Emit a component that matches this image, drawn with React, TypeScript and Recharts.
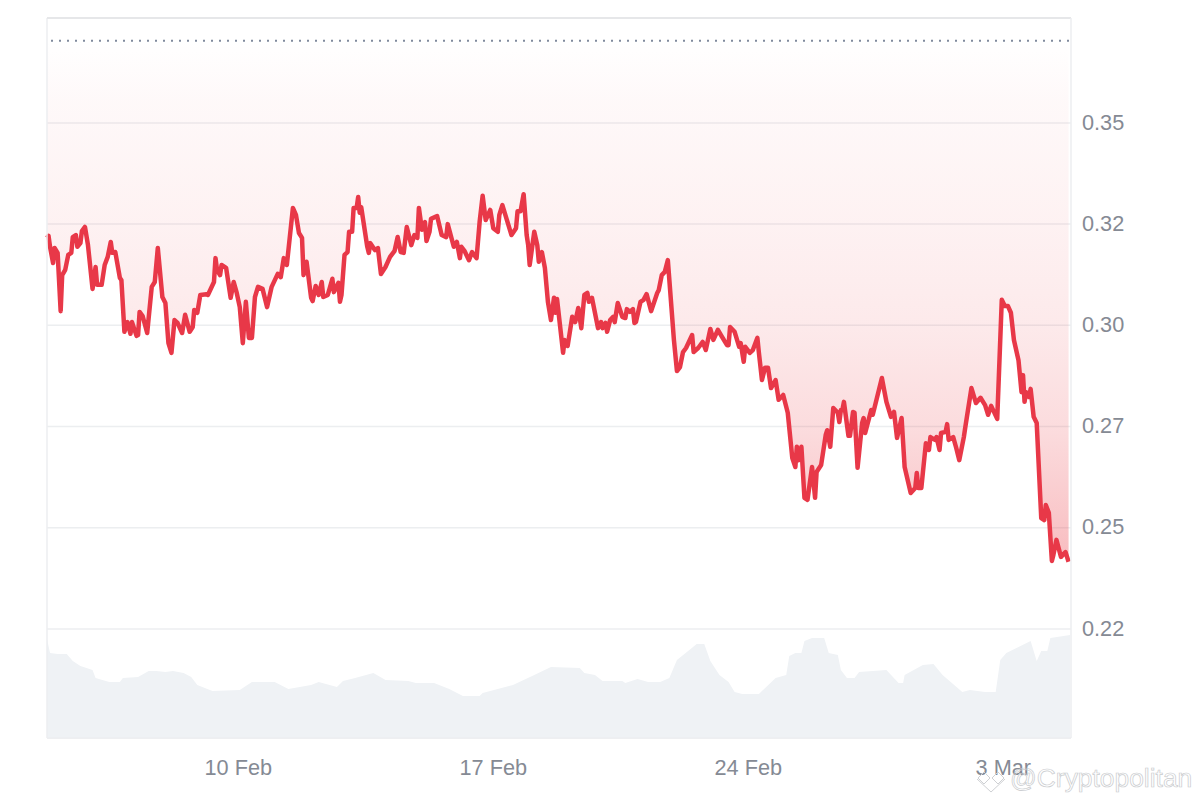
import React from 'react'
import {
  ComposedChart,
  Area,
  XAxis,
  YAxis,
  CartesianGrid,
  ReferenceLine
} from 'recharts'

// hours since the start of the window (4 Feb, evening)
const priceHours = [
  0, 1, 2, 4, 5, 7, 9, 10, 12, 14,
  16, 17, 19, 20, 22, 23, 25, 27, 30, 32,
  33, 36, 38, 40, 42, 43, 45, 48, 49, 51,
  53, 55, 56, 59, 60, 61, 63, 66, 69, 71,
  73, 76, 78, 80, 82, 84, 86, 89, 91, 94,
  96, 97, 99, 101, 105, 106, 110, 111, 112, 114,
  115, 118, 121, 123, 125, 127, 129, 131, 133, 135,
  137, 139, 142, 145, 148, 152, 154, 156, 158, 162,
  164, 166, 168, 169, 171, 174, 175, 177, 179, 181,
  182, 185, 188, 189, 192, 193, 194, 196, 198, 199,
  201, 202, 204, 205, 206, 207, 211, 212, 213, 216,
  218, 220, 223, 226, 229, 231, 233, 235, 237, 240,
  242, 244, 245, 247, 249, 250, 252, 253, 257, 260,
  263, 264, 268, 270, 272, 273, 275, 278, 280, 283,
  285, 287, 289, 292, 294, 297, 298, 300, 303, 306,
  309, 310, 312, 314, 316, 317, 318, 321, 323, 324,
  326, 328, 330, 332, 334, 335, 336, 340, 341, 343,
  346, 348, 350, 352, 354, 356, 357, 359, 363, 365,
  366, 368, 369, 371, 373, 374, 376, 379, 381, 382,
  384, 386, 387, 388, 391, 393, 395, 398, 402, 403,
  405, 407, 409, 410, 413, 415, 417, 419, 421, 425,
  426, 429, 432, 434, 437, 439, 442, 444, 448, 449,
  450, 453, 456, 457, 459, 460, 463, 465, 468, 469,
  471, 473, 475, 477, 480, 482, 485, 488, 491, 493,
  494, 495, 497, 499, 501, 504, 506, 507, 510, 513,
  514, 516, 518, 521, 522, 523, 524, 525, 528, 529,
  531, 532, 534, 537, 538, 539, 543, 544, 550, 553,
  556, 558, 560, 563, 565, 569, 572, 573, 574, 576,
  579, 581, 582, 585, 586, 588, 589, 592, 593, 594,
  597, 599, 601, 604, 605, 609, 612, 615, 618, 620,
  622, 626, 629, 631, 633, 635, 637, 640, 642, 643,
  644, 645, 647, 648, 650, 652, 655, 657, 658, 660,
  662, 663, 665, 668, 671, 673
]

const prices = [
  0.3216, 0.3221, 0.3194, 0.3154, 0.3191, 0.3179, 0.3035, 0.3124, 0.3137, 0.3174,
  0.3179, 0.3218, 0.3223, 0.3194, 0.3203, 0.3233, 0.3243, 0.3198, 0.309, 0.3144,
  0.31, 0.31, 0.3149, 0.3169, 0.3206, 0.3179, 0.3181, 0.3117, 0.3112, 0.2984,
  0.3008, 0.2979, 0.3008, 0.2974, 0.2976, 0.3033, 0.3023, 0.2981, 0.3095, 0.3107,
  0.3191, 0.307, 0.3055, 0.2956, 0.2932, 0.3013, 0.3006, 0.2981, 0.3026, 0.2984,
  0.2996, 0.3038, 0.3031, 0.3075, 0.3077, 0.3075, 0.3107, 0.3166, 0.3137, 0.3124,
  0.3149, 0.3142, 0.3068, 0.3107, 0.308, 0.3045, 0.2956, 0.3058, 0.2969, 0.2969,
  0.307, 0.3095, 0.309, 0.3045, 0.3095, 0.3127, 0.3119, 0.3166, 0.3149, 0.329,
  0.3273, 0.3228, 0.3216, 0.3124, 0.3157, 0.3068, 0.306, 0.3097, 0.3075, 0.3107,
  0.307, 0.3075, 0.3115, 0.3082, 0.3105, 0.3058, 0.3075, 0.3174, 0.3181, 0.3231,
  0.3231, 0.329, 0.329, 0.3317, 0.3278, 0.3292, 0.3194, 0.3179, 0.3203, 0.3186,
  0.3191, 0.3127, 0.3144, 0.3169, 0.3184, 0.3218, 0.3181, 0.3179, 0.3243, 0.3198,
  0.3223, 0.3216, 0.329, 0.3236, 0.3255, 0.3208, 0.3231, 0.3263, 0.327, 0.3223,
  0.3218, 0.325, 0.3194, 0.3206, 0.3166, 0.3194, 0.3184, 0.3161, 0.3181, 0.3166,
  0.3255, 0.332, 0.326, 0.3285, 0.324, 0.3231, 0.3273, 0.3297, 0.326, 0.3223,
  0.324, 0.3282, 0.3282, 0.3324, 0.3223, 0.3198, 0.3149, 0.3231, 0.3198, 0.3157,
  0.3181, 0.3142, 0.3058, 0.3013, 0.3068, 0.3031, 0.3065, 0.2932, 0.2964, 0.2949,
  0.3021, 0.3008, 0.3043, 0.2993, 0.3075, 0.308, 0.3058, 0.3068, 0.2993, 0.3008,
  0.2993, 0.3006, 0.2984, 0.3013, 0.3021, 0.3008, 0.3055, 0.3021, 0.3018, 0.304,
  0.3033, 0.304, 0.3006, 0.3008, 0.3058, 0.3063, 0.3077, 0.3035, 0.308, 0.3087,
  0.3124, 0.3132, 0.3161, 0.3112, 0.2964, 0.2887, 0.2897, 0.2934, 0.2944, 0.2976,
  0.2934, 0.2944, 0.2959, 0.2939, 0.2991, 0.2964, 0.2989, 0.2976, 0.2951, 0.2951,
  0.2996, 0.2984, 0.2947, 0.2956, 0.291, 0.2947, 0.2932, 0.2939, 0.2969, 0.2932,
  0.2865, 0.2895, 0.2895, 0.2845, 0.2865, 0.2816, 0.2828, 0.2784, 0.2672, 0.265,
  0.27, 0.2667, 0.27, 0.2574, 0.2569, 0.265, 0.2574, 0.2638, 0.2655, 0.2729,
  0.2741, 0.27, 0.2796, 0.2784, 0.2761, 0.2791, 0.2791, 0.2811, 0.2727, 0.2727,
  0.2786, 0.2784, 0.2648, 0.2759, 0.2771, 0.2734, 0.2791, 0.2779, 0.287, 0.2811,
  0.2774, 0.2786, 0.2722, 0.2771, 0.265, 0.2586, 0.2598, 0.2635, 0.2598, 0.2598,
  0.2709, 0.2692, 0.2724, 0.2717, 0.2724, 0.2692, 0.2734, 0.2737, 0.2756, 0.2717,
  0.2724, 0.2697, 0.2667, 0.2724, 0.2749, 0.2845, 0.2808, 0.2821, 0.2803, 0.2779,
  0.2801, 0.2769, 0.3063, 0.3048, 0.3048, 0.3031, 0.2964, 0.2914, 0.2835, 0.2877,
  0.2811, 0.2835, 0.2823, 0.2843, 0.2774, 0.2759, 0.2524, 0.2519, 0.2556, 0.2537,
  0.2418, 0.2433, 0.247, 0.2428, 0.244, 0.2416
]

const volumeHours = [
  0, 2, 7, 13, 17, 22, 30, 32, 41, 48,
  50, 60, 67, 72, 78, 83, 90, 95, 99, 109,
  127, 135, 150, 159, 174, 179, 191, 195, 203, 215,
  223, 238, 243, 255, 265, 274, 285, 287, 307, 321,
  332, 351, 354, 361, 366, 379, 381, 389, 396, 404,
  410, 415, 424, 428, 433, 437, 443, 449, 453, 458,
  469, 480, 487, 489, 493, 497, 499, 504, 512, 515,
  521, 523, 527, 532, 535, 553, 561, 564, 565, 571,
  577, 584, 590, 603, 608, 618, 625, 628, 632, 648,
  652, 655, 659, 661, 674
]

const volumes = [
  99, 85, 84, 84, 77, 72, 68, 60, 56, 56,
  60, 61, 67, 67, 66, 67, 65, 61, 53, 47,
  48, 56, 56, 49, 53, 56, 51, 57, 60, 65,
  58, 57, 55, 55, 49, 42, 42, 45, 53, 63,
  71, 70, 65, 63, 57, 57, 55, 59, 56, 56,
  60, 78, 89, 94, 94, 77, 63, 56, 46, 44,
  44, 60, 63, 82, 85, 85, 97, 100, 100, 85,
  83, 68, 60, 60, 66, 68, 55, 55, 63, 68,
  73, 74, 63, 46, 48, 46, 46, 78, 85, 97,
  77, 87, 87, 100, 103
]

const dateTicks = [126, 294, 462, 630]
const dateLabels = ['10 Feb', '17 Feb', '24 Feb', '3 Mar']
const priceTicks = [0.225, 0.25, 0.275, 0.3, 0.325, 0.35]
const priceLabels = ['0.22', '0.25', '0.27', '0.30', '0.32', '0.35']
const startPrice = 0.3703

const table = new Map<number, { hour: number; price?: number; volume?: number }>()
priceHours.forEach((hour, i) => table.set(hour, { hour, price: prices[i] }))
volumeHours.forEach((hour, i) => {
  table.set(hour, { ...(table.get(hour) || { hour }), volume: volumes[i] })
})
const chartData = [...table.values()].sort((a, b) => a.hour - b.hour)

const fontFamily = '"Liberation Sans", Arial, sans-serif'
const tickStyle = { fill: '#858a94', fontSize: 21.7, fontFamily }
const frameColor = '#eceef0'

const App: React.FC = () => {
  return (
    <div style={{ position: 'absolute', left: 0, top: 0, width: 1200, height: 800, background: '#fff' }}>
      <ComposedChart
        width={1200}
        height={800}
        data={chartData}
        margin={{ top: 18, right: 0, bottom: 0, left: 47 }}
      >
        <defs>
          <linearGradient id='priceFill' x1='0' y1='0' x2='0' y2='1'>
            <stop offset='0%' stopColor='#ea3943' stopOpacity={0} />
            <stop offset='11%' stopColor='#ea3943' stopOpacity={0.03} />
            <stop offset='36%' stopColor='#ea3943' stopOpacity={0.07} />
            <stop offset='55%' stopColor='#ea3943' stopOpacity={0.11} />
            <stop offset='75%' stopColor='#ea3943' stopOpacity={0.18} />
            <stop offset='88%' stopColor='#ea3943' stopOpacity={0.26} />
            <stop offset='100%' stopColor='#ea3943' stopOpacity={0.34} />
          </linearGradient>
        </defs>
        <CartesianGrid vertical={false} stroke={frameColor} strokeWidth={1.5} yAxisId='price' />
        <XAxis
          dataKey='hour'
          type='number'
          domain={[0, 674.6]}
          ticks={dateTicks}
          tickFormatter={(h: number) => dateLabels[dateTicks.indexOf(h)]}
          tick={tickStyle}
          tickLine={false}
          axisLine={{ stroke: frameColor, strokeWidth: 1.5 }}
          tickMargin={16}
          height={62}
        />
        <YAxis
          yAxisId='price'
          orientation='right'
          domain={[0.19807, 0.37591]}
          ticks={priceTicks}
          tickFormatter={(v: number) => priceLabels[priceTicks.indexOf(v)]}
          tick={{ ...tickStyle, dy: -1 }}
          tickLine={false}
          axisLine={{ stroke: frameColor, strokeWidth: 1.5 }}
          tickMargin={5}
          width={129}
        />
        <YAxis yAxisId='volume' hide domain={[0, 720]} />
        <ReferenceLine yAxisId='price' x={0} stroke={frameColor} strokeWidth={1.5} />
        <ReferenceLine yAxisId='price' y={0.37591} stroke='#e6e7e9' strokeWidth={2} />
        <Area
          yAxisId='volume'
          dataKey='volume'
          type='linear'
          stroke='none'
          fill='#eff2f5'
          fillOpacity={1}
          connectNulls
          dot={false}
          isAnimationActive={false}
        />
        <Area
          yAxisId='price'
          dataKey='price'
          type='linear'
          baseValue={startPrice}
          stroke='#e83848'
          strokeWidth={4.5}
          strokeLinejoin='round'
          fill='url(#priceFill)'
          fillOpacity={1}
          connectNulls
          dot={false}
          isAnimationActive={false}
        />
        <ReferenceLine
          yAxisId='price'
          y={startPrice}
          stroke='#808a9d'
          strokeWidth={2}
          strokeDasharray='2 6'
          strokeDashoffset={6}
        />
      </ComposedChart>
      <svg
        width={1200}
        height={800}
        style={{ position: 'absolute', left: 0, top: 0, pointerEvents: 'none' }}
      >
        <g fill='none' stroke='#cfd1d4' strokeWidth={1}>
          <polyline points='977,779 991,792 1005,779' />
          <polygon points='984,772 990,778 984,784 978,778' />
          <polygon points='998,772 1004,778 998,784 992,778' />
        </g>
        <text
          x={1010}
          y={787}
          fontFamily={fontFamily}
          fontSize={26.4}
          fill='none'
          stroke='#c9cbce'
          strokeWidth={0.7}
        >
          @Cryptopolitan
        </text>
      </svg>
    </div>
  )
}

export default App
